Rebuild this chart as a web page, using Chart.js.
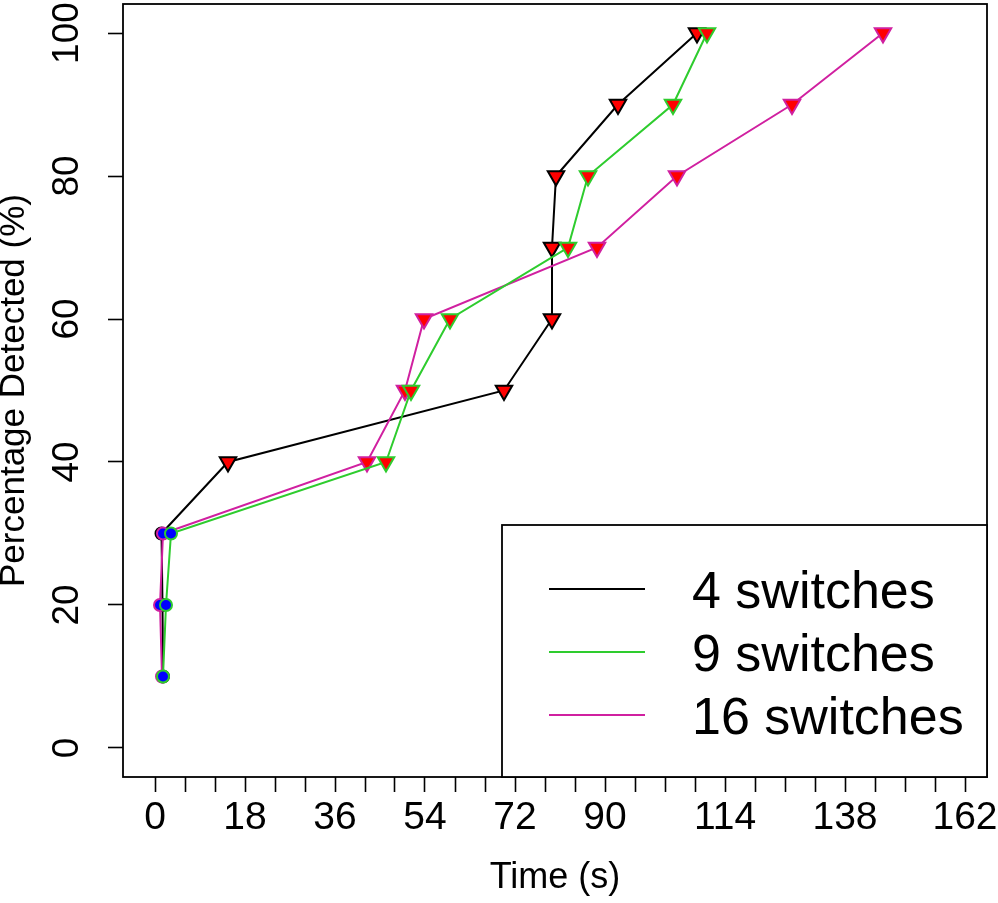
<!DOCTYPE html>
<html>
<head>
<meta charset="utf-8">
<script src="https://cdn.jsdelivr.net/npm/chart.js@4/dist/chart.umd.min.js"></script>
<style>
    html, body { margin: 0; padding: 0; background: #ffffff; }
    canvas { display: block; }
</style>
</head>
<body>
<canvas id="detectChart" width="998" height="903"></canvas>
<script>
// Detection time per percentage level, one array per network size
const percentDetected = [10, 20, 30, 40, 50, 60, 70, 80, 90, 100];
const times4 = [1.6, 1.5, 1.3, 14.6, 69.8, 79.4, 79.4, 80.2, 92.6, 108.4];
const times9 = [1.6, 2.2, 3.2, 46.2, 51.2, 59.0, 82.6, 86.6, 103.6, 110.4];
const times16 = [1.4, 1.0, 1.6, 42.4, 50.0, 53.8, 88.4, 104.4, 127.4, 145.6];

const seriesLabels = ['4 switches', '9 switches', '16 switches'];
const seriesColors = ['#000000', '#2ecc2e', '#d020a0'];

// axis ticks
const xTickLabels = [0, 18, 36, 54, 72, 90, 114, 138, 162];
const xMinorStep = 6;
const yTickLabels = [0, 20, 40, 60, 80, 100];

const fontFamily = '"Liberation Sans", Arial, Helvetica, sans-serif';

function toPoints(times) {
    return times.map((t, i) => ({ x: t, y: percentDetected[i] }));
}

function makeDataset(label, times, color, order) {
    return {
        label: label,
        data: toPoints(times),
        showLine: true,
        borderColor: color,
        borderWidth: 2,
        order: order,
        // first three levels use round markers, the rest down triangles
        pointStyle: percentDetected.map(p => p <= 30 ? 'circle' : 'triangle'),
        pointRotation: percentDetected.map(p => p <= 30 ? 0 : 180),
        pointRadius: percentDetected.map(p => p <= 30 ? 6 : 9.5),
        pointBackgroundColor: percentDetected.map(p => p <= 30 ? '#0000ff' : '#ff0000'),
        pointBorderColor: color,
        pointBorderWidth: 2
    };
}

// box around plot, rotated y labels and the legend
const framePlugin = {
    id: 'frame',
    afterDraw(chart) {
        const ctx = chart.ctx;
        const area = chart.chartArea;
        ctx.save();
        ctx.strokeStyle = '#000';
        ctx.lineWidth = 1.8;
        ctx.strokeRect(area.left, area.top, area.right - area.left, area.bottom - area.top);

        // y tick labels, parallel to the axis
        const yScale = chart.scales.y;
        ctx.fillStyle = '#000';
        ctx.font = '37px ' + fontFamily;
        ctx.textAlign = 'center';
        ctx.textBaseline = 'middle';
        yTickLabels.forEach(v => {
            const py = yScale.getPixelForValue(v);
            ctx.save();
            ctx.translate(68, py);
            ctx.rotate(-Math.PI / 2);
            ctx.fillText(String(v), 0, 0);
            ctx.restore();
        });

        // legend
        const boxW = 485, boxH = 252;
        const bx = area.right - boxW, by = area.bottom - boxH;
        ctx.fillStyle = '#fff';
        ctx.fillRect(bx, by, boxW, boxH);
        ctx.strokeRect(bx, by, boxW, boxH);
        ctx.font = '52px ' + fontFamily;
        ctx.textAlign = 'left';
        ctx.textBaseline = 'alphabetic';
        seriesLabels.forEach((label, i) => {
            const ly = by + 64 + i * 63;
            ctx.strokeStyle = seriesColors[i];
            ctx.lineWidth = 2;
            ctx.beginPath();
            ctx.moveTo(bx + 47, ly);
            ctx.lineTo(bx + 143, ly);
            ctx.stroke();
            ctx.fillStyle = '#000';
            ctx.fillText(label, bx + 190, ly + 19);
        });
        ctx.restore();
    }
};

const xMinorTicks = [];
for (let v = 0; v <= xTickLabels[xTickLabels.length - 1]; v += xMinorStep) xMinorTicks.push(v);

const ctx = document.getElementById('detectChart').getContext('2d');
new Chart(ctx, {
    type: 'scatter',
    data: {
        datasets: [
            makeDataset(seriesLabels[0], times4, seriesColors[0], 2),
            makeDataset(seriesLabels[1], times9, seriesColors[1], 0),
            makeDataset(seriesLabels[2], times16, seriesColors[2], 1)
        ]
    },
    options: {
        responsive: false,
        animation: false,
        devicePixelRatio: 1,
        layout: { autoPadding: false, padding: { top: 4, right: 11, left: 0, bottom: 0 } },
        plugins: {
            legend: { display: false },
            tooltip: { enabled: false }
        },
        scales: {
            x: {
                type: 'linear',
                min: -6.4,
                max: 166.4,
                afterBuildTicks: s => { s.ticks = xMinorTicks.map(v => ({ value: v })); },
                afterFit: s => {
                    s.height = 126;
                    // labels may hang past the box, like R does
                    s.paddingLeft = 0;
                    s.paddingRight = 0;
                },
                border: { display: false },
                grid: {
                    drawOnChartArea: false,
                    drawTicks: true,
                    tickLength: 15,
                    tickColor: '#000',
                    tickWidth: 1.6
                },
                ticks: {
                    autoSkip: false,
                    maxRotation: 0,
                    minRotation: 0,
                    padding: 3,
                    color: '#000',
                    font: { family: fontFamily, size: 39 },
                    callback: v => xTickLabels.includes(v) ? String(v) : ''
                },
                title: {
                    display: true,
                    text: 'Time (s)',
                    color: '#000',
                    font: { family: fontFamily, size: 36, lineHeight: 1 },
                    padding: { top: 0, bottom: 7 }
                }
            },
            y: {
                type: 'linear',
                min: -4.06,
                max: 104.06,
                afterBuildTicks: s => { s.ticks = yTickLabels.map(v => ({ value: v })); },
                afterFit: s => { s.width = 123; },
                border: { display: false },
                grid: {
                    drawOnChartArea: false,
                    drawTicks: true,
                    tickLength: 15,
                    tickColor: '#000',
                    tickWidth: 1.6
                },
                ticks: { display: false },
                title: {
                    display: true,
                    text: 'Percentage Detected (%)',
                    color: '#000',
                    font: { family: fontFamily, size: 35, lineHeight: 0.8 },
                    padding: { top: 0, bottom: 0 }
                }
            }
        }
    },
    plugins: [framePlugin]
});
</script>
</body>
</html>
